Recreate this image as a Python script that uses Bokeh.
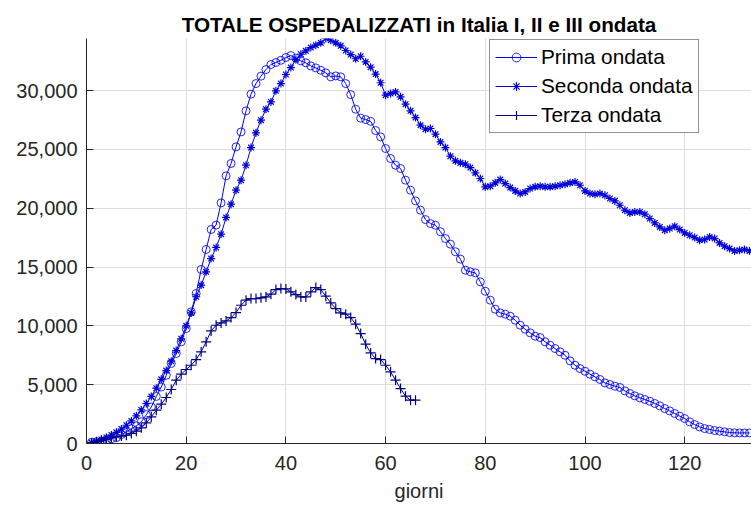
import numpy as np
from bokeh.plotting import figure
from bokeh.models import Range1d, NumeralTickFormatter, FixedTicker, Legend, LegendItem
from bokeh.embed import file_html
from bokeh.resources import INLINE

title_text = "TOTALE OSPEDALIZZATI in Italia I, II e III ondata"
x_label = "giorni"
series_names = ["Prima ondata", "Seconda ondata", "Terza ondata"]

prima = [100, 150, 170, 300, 400, 500, 750, 1000, 1260, 1500,
         1850, 2450, 3100, 4000, 4800, 5800, 6800, 7650, 8640, 9770,
         11190, 12750, 14790, 16490, 18190, 18560, 20450, 22750, 23800, 25210,
         26480, 28270, 29690, 30590, 31220, 31780, 32210, 32380, 32570, 32800,
         32970, 32750, 32520, 32350, 32090, 31920, 31720, 31500, 31160, 31240,
         31160, 30590, 29650, 28410, 27650, 27530, 27380, 26600, 26060, 25070,
         24220, 23650, 23370, 22380, 21530, 20620, 19830, 19030, 18690, 18550,
         18000, 17420, 16940, 16300, 15670, 14730, 14590, 14500, 13740, 12940,
         12180, 11410, 11100, 10990, 10820, 10480, 10050, 9710, 9400, 9120,
         9000, 8640, 8350, 8070, 7790, 7500, 7020, 6650, 6370, 6140,
         5890, 5660, 5440, 5150, 5010, 4870, 4760, 4470, 4250, 4050,
         3880, 3740, 3590, 3400, 3200, 2970, 2770, 2550, 2320, 2120,
         1840, 1610, 1410, 1270, 1190, 1100, 1050, 990, 930, 910,
         900, 900, 900]

seconda = [80, 200, 350, 520, 720, 950, 1230, 1550, 1920, 2350,
           2850, 3400, 4000, 4700, 5450, 6200, 7000, 7900, 8900, 10000,
           11100, 12470, 13460, 14590, 15720, 16660, 17790, 19210, 20340, 21530,
           22380, 23650, 25150, 26400, 27480, 28410, 29030, 29970, 30590, 31360,
           31950, 32630, 33080, 33370, 33650, 33850, 34050, 34420, 34270, 34050,
           33800, 33400, 33050, 32700, 32910, 32430, 31980, 31400, 30660, 29600,
           29740, 29880, 29460, 28840, 28270, 27700, 27050, 26710, 26770, 26290,
           25630, 25150, 24420, 24020, 23850, 23740, 23450, 23000, 22520, 21810,
           21870, 22150, 22430, 22090, 21750, 21470, 21240, 21380, 21670, 21810,
           21870, 21810, 21810, 21870, 21950, 22040, 22150, 22230, 21950, 21470,
           21240, 21190, 21240, 21100, 20820, 20620, 20250, 19830, 19600, 19680,
           19680, 19490, 19120, 18750, 18410, 18130, 18270, 18470, 18180, 17900,
           17700, 17500, 17280, 17330, 17560, 17420, 17050, 16770, 16570, 16370,
           16430, 16480, 16370]

terza = [50, 140, 280, 400, 510, 570, 630, 700, 850, 1050,
         1330, 1750, 2260, 2830, 3340, 3910, 4590, 5380, 5890, 6290,
         6650, 7130, 7790, 8640, 9570, 10050, 10250, 10420, 10700, 11130,
         11750, 12180, 12320, 12320, 12380, 12460, 12690, 13080, 13170, 13140,
         12890, 12660, 12460, 12460, 12890, 13250, 13080, 12520, 11950, 11470,
         11100, 10990, 10700, 10140, 9340, 8440, 7700, 7220, 7130, 6650,
         6090, 5380, 4670, 4020, 3680, 3680]

x_ticks = [0, 20, 40, 60, 80, 100, 120]
y_ticks = [0, 5000, 10000, 15000, 20000, 25000, 30000]

FONT = "Liberation Sans"
AX = "#262626"

p = figure(width=751, height=506, output_backend="svg", toolbar_location=None,
           x_range=Range1d(0, 133.4), y_range=Range1d(0, 34420),
           min_border_left=86, min_border_right=0, min_border_top=38,
           min_border_bottom=63)
p.outline_line_color = None
p.background_fill_color = "white"

p.title.text = title_text
p.title.text_font = FONT
p.title.text_font_size = "20.7px"
p.title.text_font_style = "bold"
p.title.text_color = "black"
p.title.align = "center"
p.title.standoff = 6

for ax in (p.xaxis[0], p.yaxis[0]):
    ax.axis_line_color = AX
    ax.axis_line_width = 1
    ax.major_tick_in = 7
    ax.major_tick_out = 0
    ax.major_tick_line_color = AX
    ax.minor_tick_line_color = None
    ax.major_label_text_font = FONT
    ax.major_label_text_font_size = "20px"
    ax.major_label_text_color = AX

p.xaxis[0].ticker = FixedTicker(ticks=x_ticks)
p.yaxis[0].ticker = FixedTicker(ticks=y_ticks)
p.yaxis[0].formatter = NumeralTickFormatter(format="0,0")
p.xaxis[0].major_label_standoff = 12
p.yaxis[0].major_label_standoff = 9
p.xaxis[0].axis_label = x_label
p.xaxis[0].axis_label_text_font = FONT
p.xaxis[0].axis_label_text_font_size = "20px"
p.xaxis[0].axis_label_text_font_style = "normal"
p.xaxis[0].axis_label_text_color = AX
p.xaxis[0].axis_label_standoff = 7

p.xgrid.grid_line_color = "#dedede"
p.ygrid.grid_line_color = "#dedede"
p.xgrid.ticker = FixedTicker(ticks=x_ticks)
p.ygrid.ticker = FixedTicker(ticks=y_ticks)

x1 = list(range(1, len(prima) + 1))
x2 = list(range(1, len(seconda) + 1))
x3 = list(range(1, len(terza) + 1))

c1, c2, c3 = "#0000FF", "#0000DD", "#000088"

l1 = p.line(x1, prima, line_color=c1, line_width=1)
m1 = p.scatter(x1, prima, marker="circle", size=8, fill_color=None,
               line_color=c1, line_width=1, line_alpha=0.85)
l2 = p.line(x2, seconda, line_color=c2, line_width=1)
m2 = p.scatter(x2, seconda, marker="asterisk", size=8, line_color=c2, line_width=1.2)
l3 = p.line(x3, terza, line_color=c3, line_width=1)
m3 = p.scatter(x3, terza, marker="cross", size=10, line_color=c3, line_width=1.2)

legend = Legend(items=[LegendItem(label=series_names[0], renderers=[l1, m1]),
                       LegendItem(label=series_names[1], renderers=[l2, m2]),
                       LegendItem(label=series_names[2], renderers=[l3, m3])],
                location=(403, 310))
legend.border_line_color = AX
legend.border_line_width = 1
legend.background_fill_color = "white"
legend.background_fill_alpha = 1
legend.label_text_font = FONT
legend.label_text_font_size = "20.8px"
legend.label_text_color = "black"
legend.glyph_width = 42
legend.glyph_height = 22
legend.label_height = 22
legend.spacing = 5
legend.padding = 5
legend.margin = 0
legend.label_standoff = 4
p.add_layout(legend)

open("out.html", "w").write(file_html(p, INLINE))
